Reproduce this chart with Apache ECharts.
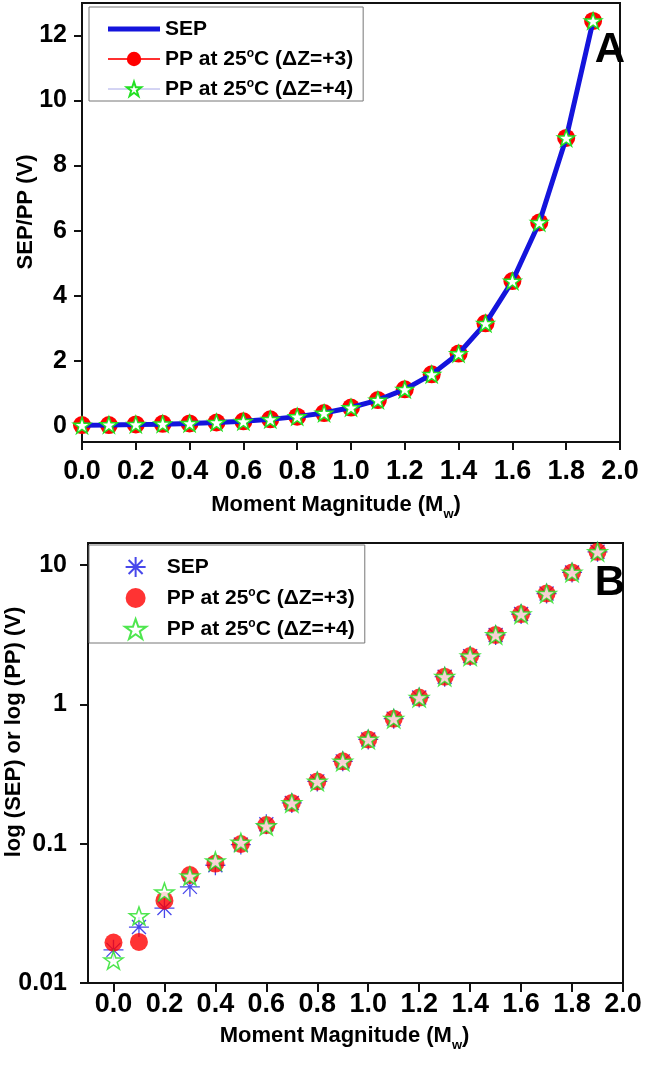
<!DOCTYPE html>
<html><head><meta charset="utf-8">
<script src="https://cdn.jsdelivr.net/npm/echarts@6/dist/echarts.min.js"></script>
<style>
html,body{margin:0;padding:0;background:#fff;}
#a{position:absolute;left:0;top:0;width:645px;height:520px;}
#b{position:absolute;left:0;top:520px;width:645px;height:547px;}
</style>
</head><body><div id="a"></div><div id="b"></div>
<script>
// ---- data ----
const mw   = [0.0,0.1,0.2,0.3,0.4,0.5,0.6,0.7,0.8,0.9,1.0,1.1,1.2,1.3,1.4,1.5,1.6,1.7,1.8,1.9];
const sep  = [0.0173,0.0252,0.0345,0.049,0.070,0.0985,0.138,0.196,0.28,0.39,0.56,0.79,1.12,1.58,2.22,3.15,4.45,6.25,8.85,12.45];
const pp3  = [0.0195,0.0197,0.039,0.0596,0.072,0.0995,0.136,0.196,0.28,0.39,0.56,0.79,1.12,1.58,2.22,3.15,4.45,6.25,8.85,12.45];
const pp4  = [0.0146,0.0303,0.045,0.0586,0.075,0.102,0.134,0.196,0.28,0.39,0.56,0.79,1.12,1.58,2.22,3.15,4.45,6.25,8.85,12.45];
const xTicks  = [0.0,0.2,0.4,0.6,0.8,1.0,1.2,1.4,1.6,1.8,2.0];
const yTicksA = [0,2,4,6,8,10,12];
const yTicksB = [0.01,0.1,1,10];
const names = ['SEP','PP at 25°C (ΔZ=+3)','PP at 25°C (ΔZ=+4)'];
const panelLabels = ['A','B'];

const FONT = '"Liberation Sans", Arial, sans-serif';
const STAR = 'path://M50,2 L61.8,36.2 L97.6,36.2 L68.6,57.4 L79.6,91.6 L50,70.4 L20.4,91.6 L31.4,57.4 L2.4,36.2 L38.2,36.2 Z';
const AST = 'path://M0,10L20,10M10,0L10,20M3,3L17,17M17,3L3,17';
const pairs = ys => mw.map((x,i)=>[x, ys[i]]);

function legendFmt(n){
  if (n === 'SEP') return '{t|SEP}';
  const m = n.match(/^PP at 25°C (.*)$/);
  return '{t|PP at 25}{sup|o}{t|C ' + m[1] + '}';
}
const legendRich = {
  t:{fontSize:21,fontWeight:'bold',fontFamily:FONT,color:'#000',lineHeight:22,verticalAlign:'bottom'},
  sup:{fontSize:12,fontWeight:'bold',fontFamily:FONT,color:'#000',lineHeight:12,padding:[0,0,10,0],verticalAlign:'bottom'}
};
const xName = '{m|Moment Magnitude (M}{w|w}{m|)}';
const xNameRich = {
  m:{fontSize:22,fontWeight:'bold',fontFamily:FONT,color:'#000',lineHeight:24,verticalAlign:'top'},
  w:{fontSize:13,fontWeight:'bold',fontFamily:FONT,color:'#000',lineHeight:14,padding:[14,0,0,0],verticalAlign:'top'}
};
const axisLineStyle = {color:'#111',width:2};
const xLabel = {fontSize:27,fontWeight:'bold',fontFamily:FONT,color:'#000'};
const yLabel = {fontSize:25,fontWeight:'bold',fontFamily:FONT,color:'#000'};

// ---- Panel A ----
const chartA = echarts.init(document.getElementById('a'), null, {renderer:'canvas'});
chartA.setOption({
  animation:false,
  grid:{left:82,right:25,top:3,bottom:78,show:true,borderColor:'#111',borderWidth:2,
        backgroundColor:'transparent',outerBoundsMode:'none'},
  legend:{
    orient:'vertical',left:89,top:7,
    data:[{name:names[0],icon:'path://M0,0 L100,0 L100,10 L0,10 Z'},
          names[1],
          {name:names[2],lineStyle:{opacity:1,color:'#a8a8e8',width:1}}],
    itemWidth:52,itemHeight:18,itemGap:8,padding:[12,10,1,18],
    symbolKeepAspect:true,
    borderColor:'#777',borderWidth:1,
    formatter:legendFmt,
    textStyle:{rich:legendRich}
  },
  xAxis:{
    type:'value',min:0,max:2.0,interval:0.2,
    axisLine:{show:true,onZero:false,lineStyle:axisLineStyle},
    axisTick:{show:true,inside:false,length:8,lineStyle:axisLineStyle},
    splitLine:{show:false},
    axisLabel:Object.assign({margin:16,formatter:v=>v.toFixed(1)},xLabel),
    name:xName,nameLocation:'middle',nameGap:52,nameMoveOverlap:false,
    nameTextStyle:{rich:xNameRich,padding:[0,30,0,0]}
  },
  yAxis:{
    type:'value',min:-0.5,max:13,
    axisLine:{show:true,onZero:false,lineStyle:axisLineStyle},
    axisTick:{show:true,length:8,lineStyle:axisLineStyle,customValues:yTicksA},
    splitLine:{show:false},
    axisLabel:Object.assign({margin:15,customValues:yTicksA},yLabel),
    name:'SEP/PP (V)',nameLocation:'middle',nameGap:45,nameMoveOverlap:false,
    nameTextStyle:{fontSize:22,fontWeight:'bold',fontFamily:FONT,color:'#000',padding:[0,0,0,21]}
  },
  graphic:[{type:'text',x:610,y:50,style:{text:panelLabels[0],font:'bold 42px '+FONT,fill:'#000',align:'center',verticalAlign:'middle'},z:100}],
  series:[
    {name:names[1],type:'line',data:pairs(pp3),z:2,symbol:'circle',symbolSize:18,
     itemStyle:{color:'#ff0000'},lineStyle:{color:'#ff3030',width:1}},
    {name:names[0],type:'line',data:pairs(sep),z:3,symbol:'none',
     itemStyle:{color:'#1414dc'},lineStyle:{color:'#1414dc',width:5}},
    {name:names[2],type:'line',data:pairs(pp4),z:4,symbol:STAR,symbolSize:17,symbolKeepAspect:true,
     itemStyle:{color:'#ffffff',borderColor:'#22e022',borderWidth:1.5},lineStyle:{color:'#a8a8e8',width:1,opacity:0}}
  ]
});

// ---- Panel B ----
const chartB = echarts.init(document.getElementById('b'), null, {renderer:'canvas'});
chartB.setOption({
  animation:false,
  grid:{left:88,right:22,top:23,bottom:84,show:true,borderColor:'#111',borderWidth:2,
        backgroundColor:'transparent',outerBoundsMode:'none'},
  legend:{
    orient:'vertical',left:89,top:25,
    data:names,
    itemWidth:52,itemHeight:20,itemGap:9,padding:[11,10,3,35],
    symbolKeepAspect:true,
    borderColor:'#777',borderWidth:1,
    formatter:legendFmt,
    textStyle:{rich:legendRich}
  },
  xAxis:{
    type:'value',min:-0.1,max:2.0,
    axisLine:{show:true,onZero:false,lineStyle:axisLineStyle},
    axisTick:{show:true,length:9,lineStyle:axisLineStyle,customValues:xTicks},
    splitLine:{show:false},
    axisLabel:Object.assign({margin:8,customValues:xTicks,formatter:v=>v.toFixed(1)},xLabel),
    name:xName,nameLocation:'middle',nameGap:42,nameMoveOverlap:false,
    nameTextStyle:{rich:xNameRich,padding:[0,22,0,0]}
  },
  yAxis:{
    type:'log',logBase:10,min:0.01,max:14.4,
    axisLine:{show:true,onZero:false,lineStyle:axisLineStyle},
    axisTick:{show:true,length:8,lineStyle:axisLineStyle,customValues:yTicksB},
    minorTick:{show:false},
    splitLine:{show:false},
    axisLabel:Object.assign({margin:21,customValues:yTicksB,formatter:v=>String(+v.toPrecision(3))},yLabel),
    name:'log (SEP) or log (PP) (V)',nameLocation:'middle',nameGap:63,nameMoveOverlap:false,
    nameTextStyle:{fontSize:22,fontWeight:'bold',fontFamily:FONT,color:'#000',padding:[0,0,0,62]}
  },
  graphic:[{type:'text',x:610,y:63,style:{text:panelLabels[1],font:'bold 42px '+FONT,fill:'#000',align:'center',verticalAlign:'middle'},z:100}],
  series:[
    {name:names[0],type:'scatter',data:pairs(sep),z:2,symbol:AST,symbolSize:20,symbolKeepAspect:true,
     itemStyle:{color:'transparent',borderColor:'#1a1ae6',borderWidth:1.3}},
    {name:names[1],type:'scatter',data:pairs(pp3),z:3,symbol:'circle',symbolSize:18,
     itemStyle:{color:'#ff0000'}},
    {name:names[2],type:'scatter',data:pairs(pp4),z:4,symbol:STAR,symbolSize:19,symbolKeepAspect:true,
     itemStyle:{color:'#ffffff',borderColor:'#22e022',borderWidth:1.5}}
  ]
});
</script>
</body></html>
